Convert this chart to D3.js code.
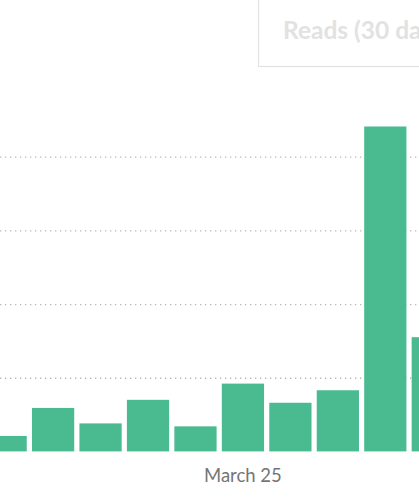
<!DOCTYPE html>
<html lang="en">
<head>
    <meta charset="UTF-8">
    <title>Reads</title>
    <script src="https://cdn.jsdelivr.net/npm/d3@7"></script>
    <style>
        body, html {
            margin: 0;
            padding: 0;
            height: 100%;
            overflow: hidden;
            background: #fff;
        }
        svg {
            display: block;
        }
    </style>
</head>
<body>
    <svg id="mainsvg"></svg>
    <script>
        // data
        const days = ['March 20', 'March 21', 'March 22', 'March 23', 'March 24',
                      'March 25', 'March 26', 'March 27', 'March 28', 'March 29'];
        const reads = [21, 59, 38, 70, 34, 92, 66, 83, 441, 155];
        const gridTicks = [100, 200, 300, 400];
        const labelDays = ['March 25'];
        const legendTitle = 'Reads (30 days)';

        const width = 419;
        const height = 499;
        const svg = d3.select('svg').attr('width', width).attr('height', height);

        // chart is cropped at both sides, so the band range runs past the svg
        const xScale = d3.scaleBand()
            .domain(days)
            .range([-18.1, 456.5])
            .paddingInner(0.11)
            .paddingOuter(0.055);

        const yScale = d3.scaleLinear()
            .domain([0, 400])
            .range([451.4, 156.7]);

        // dotted grid lines
        const gridGroup = svg.append('g')
            .call(d3.axisLeft(yScale).tickValues(gridTicks).tickSize(-width).tickFormat(''));
        gridGroup.select('.domain').remove();
        gridGroup.selectAll('.tick line')
            .attr('stroke', '#b8b8b8')
            .attr('stroke-width', 1.3)
            .attr('stroke-dasharray', '1.3,3.7');

        svg.append('g').selectAll('rect')
            .data(reads)
            .enter().append('rect')
            .attr('x', (d, i) => xScale(days[i]))
            .attr('y', d => yScale(d))
            .attr('width', xScale.bandwidth())
            .attr('height', d => yScale(0) - yScale(d))
            .attr('fill', '#4aba91');

        const xAxisGroup = svg.append('g')
            .attr('transform', `translate(0, ${yScale(0)})`)
            .call(d3.axisBottom(xScale).tickValues(labelDays).tickSize(0).tickPadding(17));
        xAxisGroup.select('.domain').remove();
        xAxisGroup.selectAll('.tick text')
            .attr('font-family', 'Lato, sans-serif')
            .attr('font-size', '18.5px')
            .attr('fill', '#757575');

        // legend box in the top right corner (cut off by the window, as in the picture)
        svg.append('rect')
            .attr('x', 258.5)
            .attr('y', -10)
            .attr('width', 300)
            .attr('height', 76.5)
            .attr('fill', '#fff')
            .attr('stroke', '#e2e2e2')
            .attr('stroke-width', 1.2);

        svg.append('text')
            .attr('x', 283)
            .attr('y', 38.5)
            .attr('font-family', 'Lato, sans-serif')
            .attr('font-weight', 'bold')
            .attr('font-size', '24.5px')
            .attr('fill', '#e2e2e2')
            .text(legendTitle);
    </script>
</body>
</html>
